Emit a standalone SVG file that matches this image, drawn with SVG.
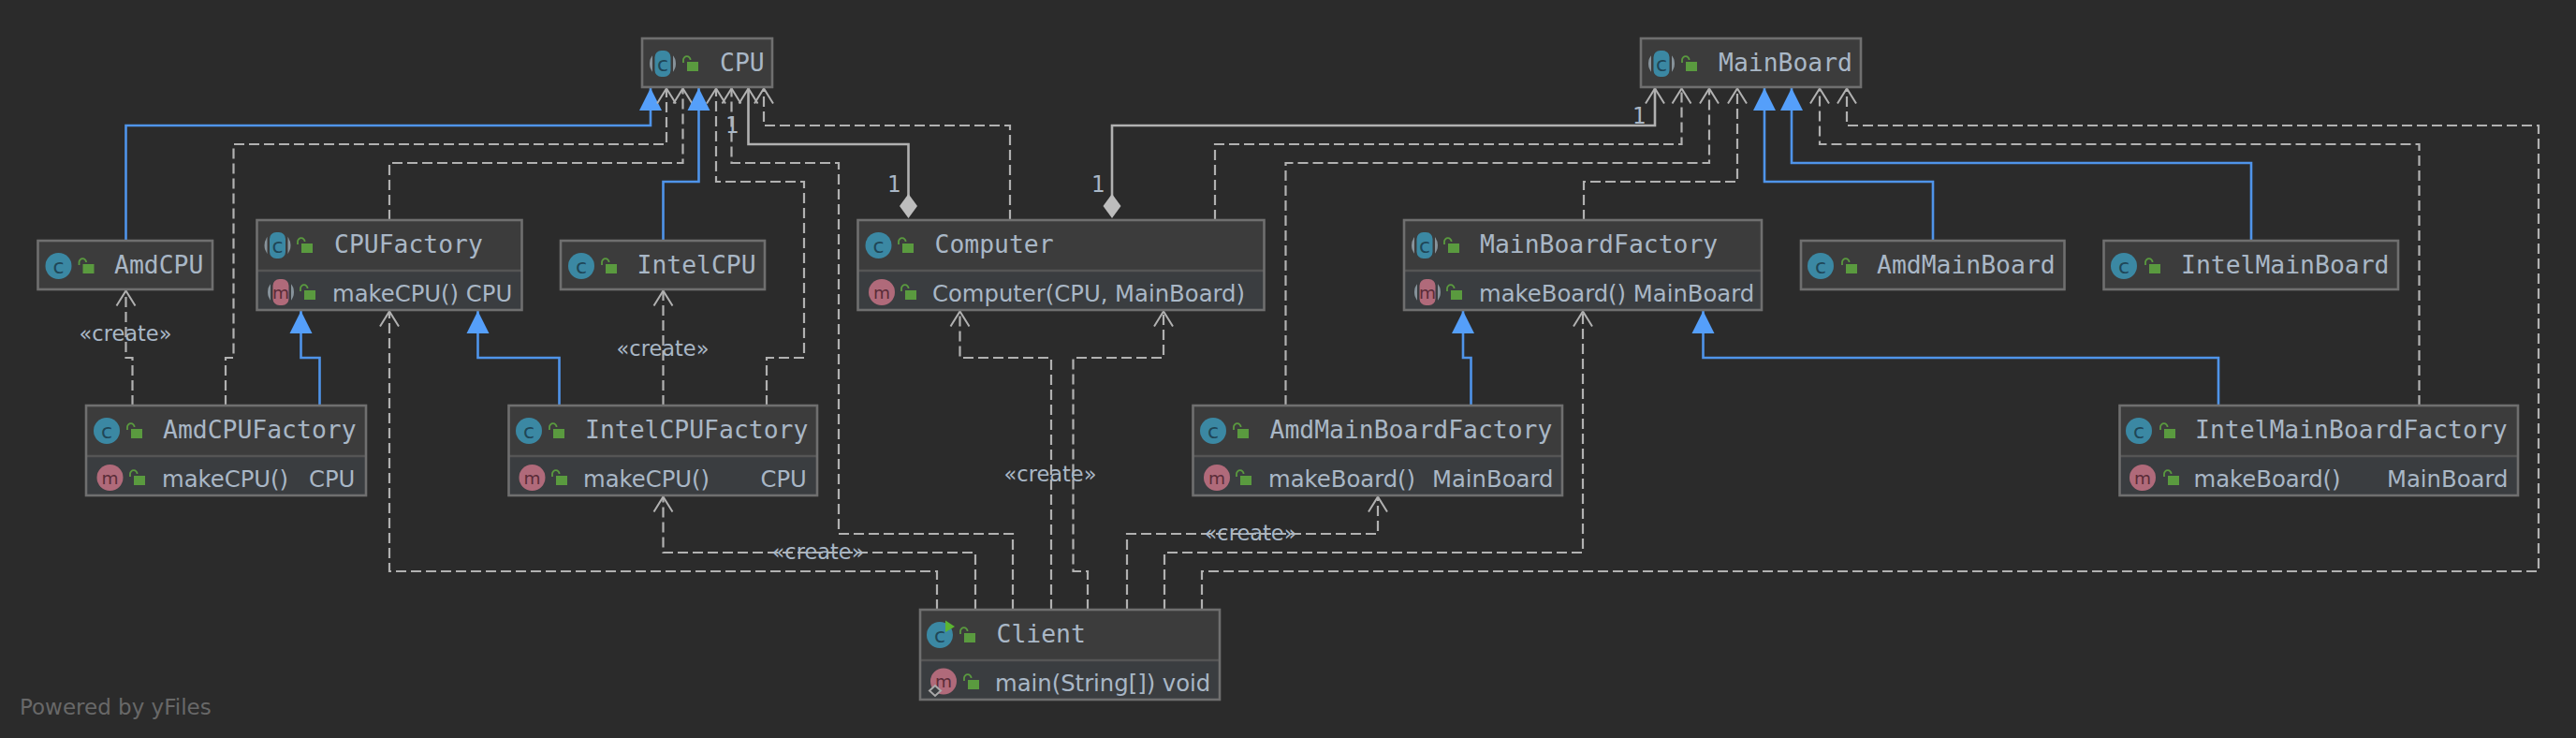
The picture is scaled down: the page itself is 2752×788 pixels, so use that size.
<svg xmlns="http://www.w3.org/2000/svg" width="2752" height="788" viewBox="0 0 2752 788">
<style>
.bg{fill:#2b2b2b}
.box{fill:#3c3c3c;stroke:none}
.mem{fill:#3a3d40;stroke:none}
.frame{fill:none;stroke:#6f6f6f;stroke-width:2.6}
.div{stroke:#555;stroke-width:2.4;fill:none}
.name{font-family:"DejaVu Sans Mono",monospace;font-size:26.4px;fill:#a9b7c6}
.m{font-family:"DejaVu Sans",sans-serif;font-size:24.3px;fill:#a9b7c6}
.lab{font-family:"DejaVu Sans",sans-serif;font-size:22.5px;fill:#a9b7c6;text-anchor:middle}
.one{font-family:"DejaVu Sans Mono",monospace;font-size:24px;fill:#a9b7c6;text-anchor:middle}
.pw{font-family:"DejaVu Sans",sans-serif;font-size:23px;fill:#686868}
.ig{font-family:"DejaVu Sans",sans-serif;font-size:22px;text-anchor:middle;fill:#1f4657}
.ign{font-family:"DejaVu Sans",sans-serif;font-size:18.500px;text-anchor:middle;fill:#5a2c38}
.dep{fill:none;stroke:#b1b1b1;stroke-width:2.2;stroke-dasharray:11 5;marker-end:url(#open)}
.inh{fill:none;stroke:#4f94ea;stroke-width:2.6;marker-end:url(#tri)}
.agg{fill:none;stroke:#b1b1b1;stroke-width:2.6;marker-start:url(#dia);marker-end:url(#open)}
</style>
<defs>
<marker id="open" markerUnits="userSpaceOnUse" viewBox="0 -12 20 24" markerWidth="20" markerHeight="24" refX="16.5" refY="0" orient="auto"><path d="M0,-10 L16,0 L0,10" fill="none" stroke="#b1b1b1" stroke-width="2" stroke-dasharray="none"/></marker>
<marker id="tri" markerUnits="userSpaceOnUse" viewBox="0 -13 26 26" markerWidth="26" markerHeight="26" refX="24" refY="0" orient="auto"><path d="M0,-12 L24,0 L0,12 z" fill="#559ffa"/></marker>
<marker id="dia" markerUnits="userSpaceOnUse" viewBox="-14 -11 28 22" markerWidth="28" markerHeight="22" refX="0" refY="0" orient="auto"><path d="M-13,0 L0,-9.5 L13,0 L0,9.5 z" fill="#bdbdbd"/></marker>
<g id="lock"><rect x="0" y="0" width="12" height="10" fill="#5a9a3f"/><path d="M-4,1 V-2 a3.8,3.8 0 0 1 7.6,0" fill="none" stroke="#5a9a3f" stroke-width="1.8"/></g>
<g id="ic"><circle r="14" fill="#3b88a3"/><text class="ig" y="8">c</text></g>
<g id="im"><circle r="14" fill="#b06a7a"/><text class="ign" y="6.500">m</text></g>
<g id="iabs"><circle r="14" fill="#87939b"/><rect x="-11" y="-15" width="22" height="30" fill="#3c3c3c"/><rect x="-8.500" y="-14" width="17" height="28" rx="7" fill="#3b88a3"/><text class="ig" y="8">c</text></g>
<g id="imabs"><circle r="14" fill="#87939b"/><rect x="-11" y="-15" width="22" height="30" fill="#3a3d40"/><rect x="-8.500" y="-14" width="17" height="28" rx="7" fill="#b06a7a"/><text class="ign" y="6.500">m</text></g>
</defs>
<rect class="bg" width="2752" height="788"/>
<g id="connectors">
<path class="inh" d="M134.500,257 V134 H695 V94"/>
<path class="dep" d="M241,433 V382 H249.500 V154 H712 V94"/>
<path class="dep" d="M416,235 V174 H729.500 V94"/>
<path class="inh" d="M708.500,257 V194 H746.500 V94"/>
<path class="dep" d="M819,433 V382 H859 V194 H765 V94"/>
<path class="dep" d="M1082,651 V570 H896 V174 H781.500 V94"/>
<path class="agg" d="M970.500,220 V154 H799.500 V94"/>
<path class="dep" d="M1079,235 V134 H816 V94"/>
<path class="dep" d="M141.500,433 V382 H134.500 V310"/>
<path class="dep" d="M708.500,433 V310"/>
<path class="dep" d="M1042,651 V590 H708.500 V530"/>
<path class="dep" d="M1001,651 V610 H416 V332"/>
<path class="dep" d="M1123,651 V382 H1025.500 V332"/>
<path class="dep" d="M1162,651 V610 H1146.500 V382 H1243 V332"/>
<path class="dep" d="M1204,651 V570 H1472 V530"/>
<path class="dep" d="M1244,651 V590 H1691 V332"/>
<path class="dep" d="M1284,651 V610 H2712 V134 H1973 V94"/>
<path class="dep" d="M1298,235 V154 H1796.500 V94"/>
<path class="agg" d="M1188,220 V134 H1768 V94"/>
<path class="dep" d="M1373.500,433 V174 H1826 V94"/>
<path class="dep" d="M1692,235 V194 H1856 V94"/>
<path class="dep" d="M2584.500,433 V154 H1944 V94"/>
<path class="inh" d="M2065,257 V194 H1885 V94"/>
<path class="inh" d="M2405,257 V174 H1914 V94"/>
<path class="inh" d="M1571.500,433 V382 H1563 V332"/>
<path class="inh" d="M2370,433 V382 H1819.500 V332"/>
<path class="inh" d="M341.500,433 V382 H321.500 V332"/>
<path class="inh" d="M597.500,433 V382 H510.500 V332"/>
<text class="lab" x="134" y="364">«create»</text>
<text class="lab" x="708" y="380">«create»</text>
<text class="lab" x="1122" y="514">«create»</text>
<text class="lab" x="874" y="597">«create»</text>
<text class="lab" x="1336" y="577">«create»</text>
<text class="one" x="782" y="142">1</text>
<text class="one" x="955" y="205">1</text>
<text class="one" x="1173" y="205">1</text>
<text class="one" x="1751" y="132">1</text>
</g>
<g id="CPU"><rect class="box" x="686" y="41" width="139" height="52"/><rect class="frame" x="686" y="41" width="139" height="52"/><use href="#iabs" x="708" y="68"/><use href="#lock" x="734" y="66"/><text class="name" x="769" y="76">CPU</text></g>
<g id="MainBoard"><rect class="box" x="1753" y="41" width="235" height="52"/><rect class="frame" x="1753" y="41" width="235" height="52"/><use href="#iabs" x="1775" y="68"/><use href="#lock" x="1801" y="66"/><text class="name" x="1836" y="76">MainBoard</text></g>
<g id="AmdCPU"><rect class="box" x="40.500" y="257" width="186.500" height="52"/><rect class="frame" x="40.500" y="257" width="186.500" height="52"/><use href="#ic" x="62.500" y="284"/><use href="#lock" x="88.500" y="282"/><text class="name" x="122" y="292">AmdCPU</text></g>
<g id="IntelCPU"><rect class="box" x="599" y="257" width="218" height="52"/><rect class="frame" x="599" y="257" width="218" height="52"/><use href="#ic" x="621" y="284"/><use href="#lock" x="647" y="282"/><text class="name" x="680.500" y="292">IntelCPU</text></g>
<g id="AmdMainBoard"><rect class="box" x="1924" y="257" width="281.500" height="52"/><rect class="frame" x="1924" y="257" width="281.500" height="52"/><use href="#ic" x="1945" y="284"/><use href="#lock" x="1972" y="282"/><text class="name" x="2005" y="292">AmdMainBoard</text></g>
<g id="IntelMainBoard"><rect class="box" x="2247.500" y="257" width="314.500" height="52"/><rect class="frame" x="2247.500" y="257" width="314.500" height="52"/><use href="#ic" x="2269" y="284"/><use href="#lock" x="2296" y="282"/><text class="name" x="2330" y="292">IntelMainBoard</text></g>
<g id="CPUFactory"><rect class="box" x="274.500" y="235" width="283" height="54"/><rect class="mem" x="274.500" y="289" width="283" height="42"/><path class="div" d="M274.500,289 H557.500"/><rect class="frame" x="274.500" y="235" width="283" height="96"/><use href="#iabs" x="296.500" y="262"/><use href="#lock" x="322" y="260"/><text class="name" x="357" y="270">CPUFactory</text><use href="#imabs" x="300" y="312"/><use href="#lock" x="325" y="310"/><text class="m" x="355" y="322">makeCPU() CPU</text></g>
<g id="Computer"><rect class="box" x="916.500" y="235" width="434" height="54"/><rect class="mem" x="916.500" y="289" width="434" height="42"/><path class="div" d="M916.500,289 H1350.500"/><rect class="frame" x="916.500" y="235" width="434" height="96"/><use href="#ic" x="938.500" y="262"/><use href="#lock" x="964" y="260"/><text class="name" x="998.500" y="270">Computer</text><use href="#im" x="942" y="312"/><use href="#lock" x="967" y="310"/><text class="m" x="996" y="322">Computer(CPU, MainBoard)</text></g>
<g id="MainBoardFactory"><rect class="box" x="1500" y="235" width="382" height="54"/><rect class="mem" x="1500" y="289" width="382" height="42"/><path class="div" d="M1500,289 H1882"/><rect class="frame" x="1500" y="235" width="382" height="96"/><use href="#iabs" x="1522" y="262"/><use href="#lock" x="1547" y="260"/><text class="name" x="1581" y="270">MainBoardFactory</text><use href="#imabs" x="1525" y="312"/><use href="#lock" x="1550" y="310"/><text class="m" x="1580" y="322">makeBoard() MainBoard</text></g>
<g id="AmdCPUFactory"><rect class="box" x="92" y="433" width="299" height="54"/><rect class="mem" x="92" y="487" width="299" height="42"/><path class="div" d="M92,487 H391"/><rect class="frame" x="92" y="433" width="299" height="96"/><use href="#ic" x="114" y="460"/><use href="#lock" x="140" y="458"/><text class="name" x="174" y="468">AmdCPUFactory</text><use href="#im" x="117.500" y="510"/><use href="#lock" x="143" y="508"/><text class="m" x="173" y="520">makeCPU()</text><text class="m" x="330" y="520">CPU</text></g>
<g id="IntelCPUFactory"><rect class="box" x="543.500" y="433" width="329.500" height="54"/><rect class="mem" x="543.500" y="487" width="329.500" height="42"/><path class="div" d="M543.500,487 H873"/><rect class="frame" x="543.500" y="433" width="329.500" height="96"/><use href="#ic" x="565" y="460"/><use href="#lock" x="591" y="458"/><text class="name" x="625" y="468">IntelCPUFactory</text><use href="#im" x="568.500" y="510"/><use href="#lock" x="594" y="508"/><text class="m" x="623" y="520">makeCPU()</text><text class="m" x="812.500" y="520">CPU</text></g>
<g id="AmdMainBoardFactory"><rect class="box" x="1274.500" y="433" width="394.500" height="54"/><rect class="mem" x="1274.500" y="487" width="394.500" height="42"/><path class="div" d="M1274.500,487 H1669"/><rect class="frame" x="1274.500" y="433" width="394.500" height="96"/><use href="#ic" x="1296" y="460"/><use href="#lock" x="1322" y="458"/><text class="name" x="1356.500" y="468">AmdMainBoardFactory</text><use href="#im" x="1300" y="510"/><use href="#lock" x="1325" y="508"/><text class="m" x="1355" y="520">makeBoard()</text><text class="m" x="1530" y="520">MainBoard</text></g>
<g id="IntelMainBoardFactory"><rect class="box" x="2264.500" y="433" width="425.500" height="54"/><rect class="mem" x="2264.500" y="487" width="425.500" height="42"/><path class="div" d="M2264.500,487 H2690"/><rect class="frame" x="2264.500" y="433" width="425.500" height="96"/><use href="#ic" x="2285" y="460"/><use href="#lock" x="2312" y="458"/><text class="name" x="2345" y="468">IntelMainBoardFactory</text><use href="#im" x="2289" y="510"/><use href="#lock" x="2316" y="508"/><text class="m" x="2343.500" y="520">makeBoard()</text><text class="m" x="2550" y="520">MainBoard</text></g>
<g id="Client"><rect class="box" x="983" y="651" width="320" height="54"/><rect class="mem" x="983" y="705" width="320" height="42"/><path class="div" d="M983,705 H1303"/><rect class="frame" x="983" y="651" width="320" height="96"/><use href="#ic" x="1004" y="678"/><path d="M1010,662.500 L1020,669 L1010,675 z" fill="#5bb531"/><use href="#lock" x="1030" y="676"/><text class="name" x="1064.500" y="686">Client</text><use href="#im" x="1008" y="727.500"/><path d="M999,732 L1005,737.500 L999,743 L993,737.500 z" fill="#3a3d40" stroke="#a9a9a9" stroke-width="2"/><use href="#lock" x="1034" y="726"/><text class="m" x="1063" y="738">main(String[]) void</text></g>
<text class="pw" x="21" y="763">Powered by yFiles</text>
</svg>
